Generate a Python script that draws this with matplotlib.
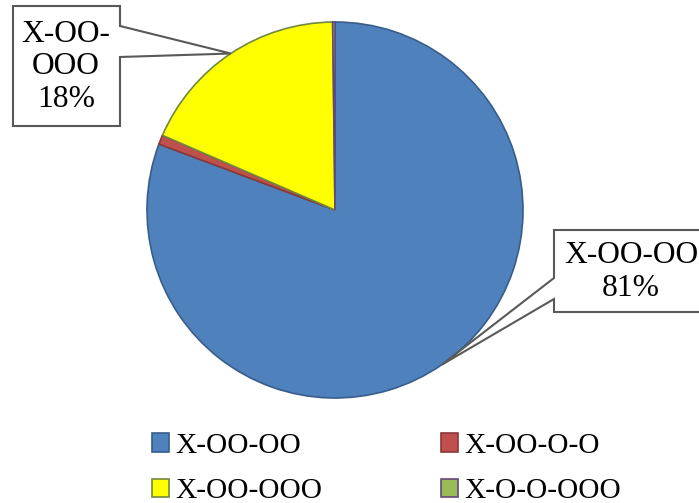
import matplotlib.pyplot as plt
from matplotlib.patches import Polygon
import numpy as np

labels = ['X-OO-OO', 'X-OO-O-O', 'X-OO-OOO', 'X-O-O-OOO']
values = [80.7, 0.8, 18.3, 0.2]
colors = ['#4F81BD', '#C0504D', '#FFFF00', '#9BBB59']
edges = ['#385D8A', '#8C3836', '#71893F', '#5F497A']
label_text = {0: 'X-OO-OO\n81%', 2: 'X-OO-\nOOO\n18%'}

plt.rcParams['font.family'] = ['Liberation Serif', 'DejaVu Serif']

W, H = 699, 503
CX, CY, R = 335, 210, 188


def px(x, y):
    # pixel (top-left origin) -> data units with pie radius 1
    return ((x - CX) / R, (CY - y) / R)


fig = plt.figure(figsize=(W / 100, H / 100), dpi=100)
ax = fig.add_axes([0, 0, 1, 1])

wedges, _ = ax.pie(values, colors=colors, startangle=90, counterclock=False,
                   radius=1, center=(0, 0), frame=True,
                   wedgeprops=dict(linewidth=1.2))
for w, ec in zip(wedges, edges):
    w.set_edgecolor(ec)
ax.set_xlim(px(0, 0)[0], px(W, 0)[0])
ax.set_ylim(px(0, H)[1], px(0, 0)[1])
ax.axis('off')

# callout boxes: (left, top, right, bottom), pointer side, pointer base y's, text center
boxes = {
    2: dict(box=(13, 6, 120, 126), side='right', py=(26, 57), tc=(66, 67)),
    0: dict(box=(554, 230, 705, 312), side='left', py=(278, 299), tc=(631, 272)),
}
for i, b in boxes.items():
    w = wedges[i]
    mid = np.deg2rad((w.theta1 + w.theta2) / 2)
    tip = (np.cos(mid), np.sin(mid))
    l, t, r, bt = b['box']
    p1, p2 = b['py']
    if b['side'] == 'right':
        verts = [px(l, t), px(r, t), px(r, p1), tip, px(r, p2), px(r, bt), px(l, bt)]
    else:
        verts = [px(l, t), px(r, t), px(r, bt), px(l, bt), px(l, p2), tip, px(l, p1)]
    ax.add_patch(Polygon(verts, closed=True, facecolor='white', edgecolor='#595959',
                         linewidth=1.5, zorder=5))
    ax.text(*px(*b['tc']), label_text[i], ha='center', va='center', fontsize=22.7,
            linespacing=1.17, zorder=6)

# legend is filled column by column, so reorder to read row by row
order = [0, 2, 1, 3]
ax.legend([wedges[k] for k in order], [labels[k] for k in order],
          loc='upper left', bbox_to_anchor=(152 / W, 1 - 433 / H),
          ncol=2, frameon=False, fontsize=21.2, handlelength=0.58, handleheight=0.58,
          handletextpad=0.2, columnspacing=4.05, labelspacing=0.66, borderpad=0,
          borderaxespad=0)

fig.savefig('out.png', dpi=100)
